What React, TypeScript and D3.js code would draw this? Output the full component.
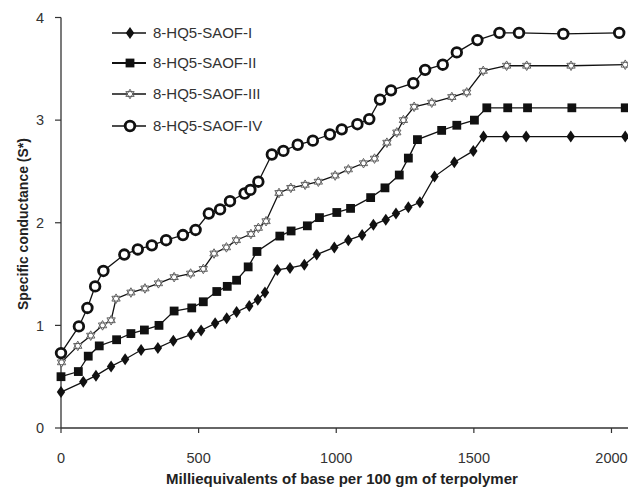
import React from "react";
import * as d3 from "d3";

const seriesNames = ["8-HQ5-SAOF-I", "8-HQ5-SAOF-II", "8-HQ5-SAOF-III", "8-HQ5-SAOF-IV"];

const xI = [0, 81, 127, 182, 233, 291, 352, 408, 473, 509, 560, 602, 638, 684, 715, 741, 786, 832, 884, 929, 993, 1044, 1094, 1135, 1180, 1217, 1262, 1304, 1357, 1429, 1498, 1535, 1617, 1690, 1852, 2050];
const yI = [0.35, 0.45, 0.51, 0.6, 0.67, 0.76, 0.78, 0.85, 0.91, 0.95, 1.02, 1.07, 1.13, 1.19, 1.25, 1.32, 1.54, 1.56, 1.59, 1.69, 1.76, 1.83, 1.88, 1.98, 2.03, 2.09, 2.15, 2.2, 2.45, 2.59, 2.7, 2.84, 2.84, 2.84, 2.84, 2.84];

const xII = [0, 63, 99, 139, 202, 254, 303, 356, 411, 475, 517, 566, 604, 638, 680, 712, 795, 836, 895, 939, 1002, 1052, 1125, 1177, 1229, 1262, 1295, 1383, 1438, 1502, 1547, 1623, 1695, 1856, 2050];
const yII = [0.5, 0.55, 0.7, 0.8, 0.86, 0.92, 0.955, 1.0, 1.14, 1.17, 1.23, 1.33, 1.38, 1.44, 1.57, 1.72, 1.87, 1.92, 1.97, 2.05, 2.1, 2.14, 2.245, 2.34, 2.465, 2.63, 2.81, 2.9, 2.95, 3.0, 3.12, 3.12, 3.12, 3.12, 3.12];

const xIII = [2, 61, 108, 151, 182, 200, 254, 305, 354, 411, 471, 517, 556, 601, 637, 690, 717, 745, 792, 835, 887, 935, 996, 1044, 1099, 1139, 1184, 1220, 1244, 1283, 1347, 1420, 1474, 1534, 1619, 1692, 1853, 2050];
const yIII = [0.64, 0.8, 0.9, 1.0, 1.05, 1.26, 1.32, 1.36, 1.41, 1.47, 1.505, 1.55, 1.7, 1.76, 1.83, 1.89, 1.95, 2.015, 2.29, 2.34, 2.37, 2.4, 2.46, 2.52, 2.58, 2.625, 2.78, 2.88, 3.0, 3.13, 3.17, 3.225, 3.27, 3.48, 3.53, 3.53, 3.53, 3.54];

const xIV = [0, 65, 96, 124, 154, 230, 279, 330, 382, 443, 489, 537, 578, 614, 667, 688, 717, 766, 808, 860, 915, 977, 1020, 1077, 1120, 1159, 1199, 1280, 1323, 1387, 1438, 1513, 1593, 1664, 1825, 2028];
const yIV = [0.73, 0.99, 1.17, 1.38, 1.53, 1.69, 1.74, 1.78, 1.83, 1.88, 1.93, 2.09, 2.13, 2.21, 2.285, 2.32, 2.4, 2.665, 2.7, 2.76, 2.8, 2.86, 2.91, 2.96, 3.01, 3.2, 3.29, 3.36, 3.49, 3.54, 3.66, 3.78, 3.85, 3.85, 3.84, 3.85];

const xTicks = [0, 500, 1000, 1500, 2000];
const yTicks = [0, 1, 2, 3, 4];

const W = 628;
const H = 487;
const FONT = "'Liberation Sans', Arial, sans-serif";

const xScale = d3.scaleLinear().domain([0, 2060]).range([61, 628]);
const yScale = d3.scaleLinear().domain([0, 4]).range([428, 17.5]);

type Marker = "diamond" | "square" | "star" | "circle";
const markers: Marker[] = ["diamond", "square", "star", "circle"];

const hexagram = (r: number) => {
  const tri = (off: number) =>
    [0, 1, 2]
      .map((i) => {
        const a = off + (i * 2 * Math.PI) / 3;
        return `${i === 0 ? "M" : "L"}${(r * Math.sin(a)).toFixed(2)},${(-r * Math.cos(a)).toFixed(2)}`;
      })
      .join("") + "Z";
  return tri(0) + tri(Math.PI);
};

function MarkerShape({ kind, x, y }: { kind: Marker; x: number; y: number }) {
  if (kind === "diamond") {
    return <path d={`M${x},${y - 6}L${x + 4.2},${y}L${x},${y + 6}L${x - 4.2},${y}Z`} fill="#111" />;
  }
  if (kind === "square") {
    return <rect x={x - 4.4} y={y - 4.4} width={8.8} height={8.8} fill="#111" />;
  }
  if (kind === "star") {
    return <path d={hexagram(4.8)} transform={`translate(${x},${y})`} fill="#fff" stroke="#555" strokeWidth={0.9} />;
  }
  return <circle cx={x} cy={y} r={4.8} fill="#fff" stroke="#111" strokeWidth={2.8} />;
}

export default function App() {
  const xs = [xI, xII, xIII, xIV];
  const ys = [yI, yII, yIII, yIV];
  const line = d3
    .line<[number, number]>()
    .x((d) => xScale(d[0]))
    .y((d) => yScale(d[1]));

  const legendY = [33, 63, 94, 126];

  return (
    <svg
      width={W}
      height={H}
      style={{ position: "absolute", left: 0, top: 0, background: "#fff" }}
      fontFamily={FONT}
    >
      <rect width={W} height={H} fill="#fff" />
      {/* axes */}
      <line x1={xScale(0)} x2={W} y1={yScale(0)} y2={yScale(0)} stroke="#333" strokeWidth={1.3} />
      <line x1={xScale(0)} x2={xScale(0)} y1={yScale(0)} y2={yScale(4)} stroke="#333" strokeWidth={1.3} />
      {yTicks.map((t) => (
        <g key={"y" + t}>
          <line x1={xScale(0) - 6} x2={xScale(0)} y1={yScale(t)} y2={yScale(t)} stroke="#333" strokeWidth={1.2} />
          <text x={40} y={yScale(t)} dy="0.36em" textAnchor="middle" fontSize={14.5} fill="#333">
            {t}
          </text>
        </g>
      ))}
      {xTicks.map((t) => (
        <g key={"x" + t}>
          <line x1={xScale(t)} x2={xScale(t)} y1={yScale(0)} y2={yScale(0) + 5} stroke="#333" strokeWidth={1.2} />
          <text x={xScale(t)} y={463} textAnchor="middle" fontSize={14.5} fill="#333">
            {t}
          </text>
        </g>
      ))}
      <text x={342} y={484} textAnchor="middle" fontSize={15} fontWeight="bold" fill="#222">
        Milliequivalents of base per 100 gm of terpolymer
      </text>
      <text
        transform={`translate(28,224) rotate(-90)`}
        textAnchor="middle"
        fontSize={14}
        fontWeight="bold"
        fill="#222"
      >
        Specific conductance (S*)
      </text>
      {/* series */}
      {xs.map((xa, si) => {
        const pts: [number, number][] = xa.map((x, i) => [x, ys[si][i]]);
        return (
          <g key={"s" + si}>
            <path d={line(pts) || ""} fill="none" stroke="#111" strokeWidth={1.3} />
            {pts.map((p, i) => (
              <MarkerShape key={i} kind={markers[si]} x={xScale(p[0])} y={yScale(p[1])} />
            ))}
          </g>
        );
      })}
      {/* legend */}
      {seriesNames.map((name, i) => (
        <g key={"l" + i}>
          <line x1={112} x2={146} y1={legendY[i]} y2={legendY[i]} stroke="#111" strokeWidth={i === 1 ? 2 : 1.3} />
          <MarkerShape kind={markers[i]} x={130} y={legendY[i]} />
          <text x={153} y={legendY[i]} dy="0.36em" fontSize={15} fill="#333">
            {name}
          </text>
        </g>
      ))}
    </svg>
  );
}
